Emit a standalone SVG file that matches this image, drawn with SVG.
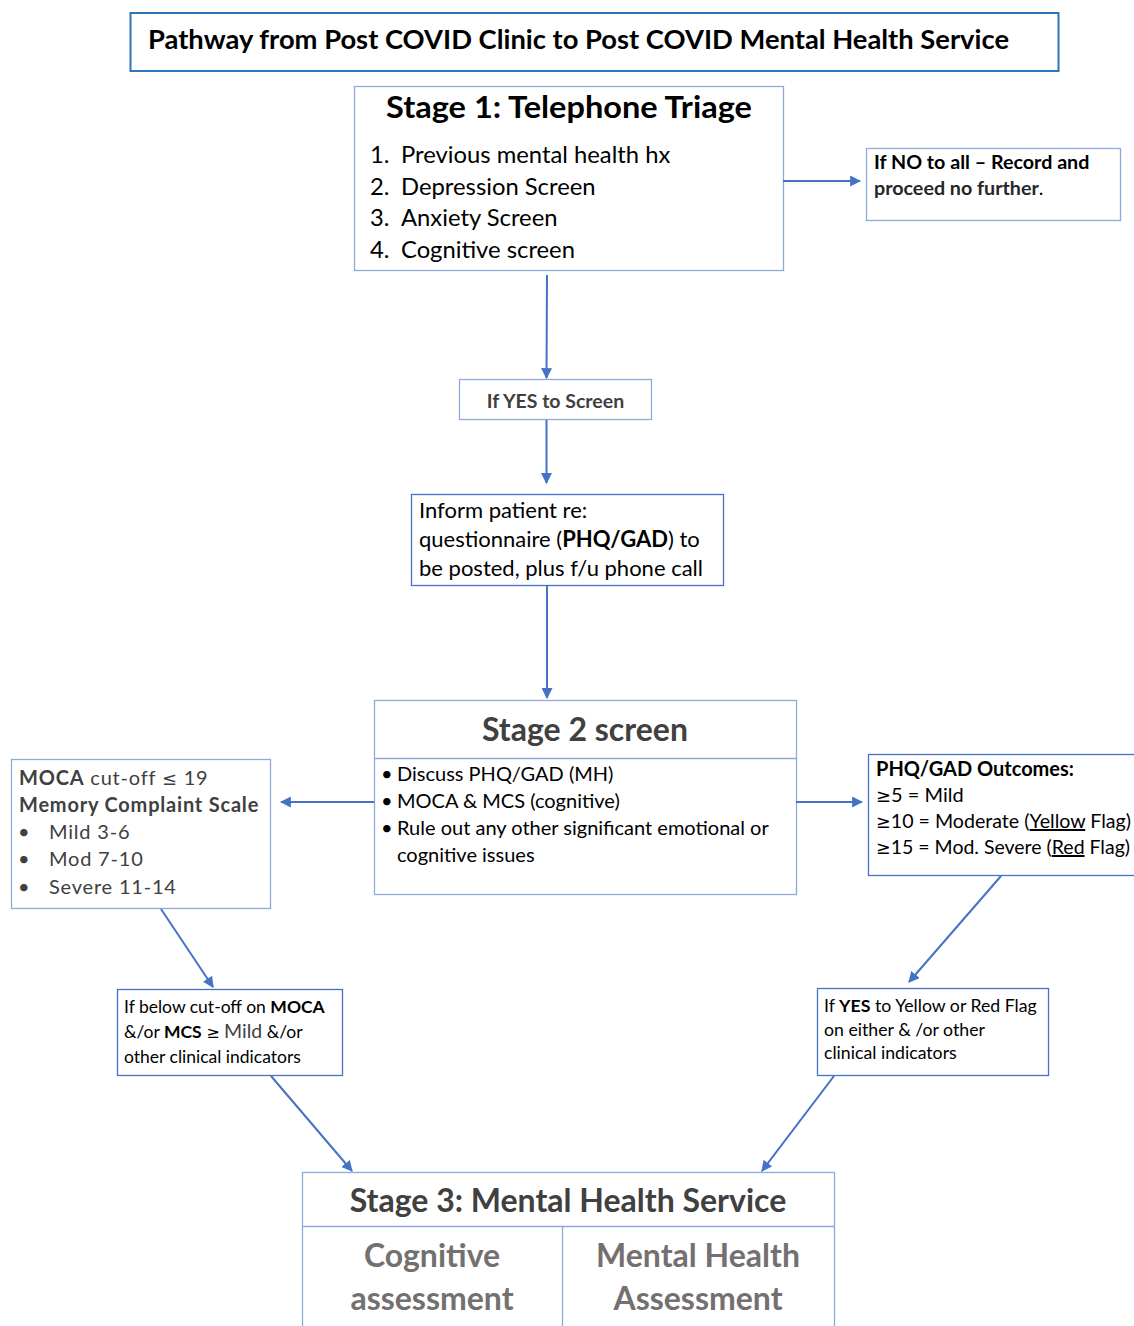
<svg xmlns="http://www.w3.org/2000/svg" width="1134" height="1326" viewBox="0 0 1134 1326">
<defs>
<marker id="ah" viewBox="0 0 10 10" refX="9" refY="5" markerWidth="5.5" markerHeight="5.5" orient="auto" markerUnits="strokeWidth">
<path d="M0,0 L10,5 L0,10 z" fill="#4472C4"/>
</marker>
<style>
text{font-family:Lato,"Open Sans","Liberation Sans",sans-serif;fill:#000}
.b{font-weight:bold}
.lb{fill:#fff;stroke:#8EAADB;stroke-width:1.3}
.db{fill:#fff;stroke:#4472C4;stroke-width:1.3}
.c{stroke:#4472C4;stroke-width:2;fill:none;marker-end:url(#ah)}
.g{fill:#404040}
.gg{fill:#757070}
.s{font-family:"DejaVu Sans","Liberation Sans",sans-serif;font-weight:normal}
</style>
</defs>
<rect width="1134" height="1326" fill="#fff"/>

<g id="title">
<rect x="130.5" y="13" width="928" height="58" fill="#fff" stroke="#2E75B6" stroke-width="2"/>
<text x="148" y="49" class="b" font-size="26" textLength="861" lengthAdjust="spacingAndGlyphs">Pathway from Post COVID Clinic to Post COVID Mental Health Service</text>
</g>

<g id="stage1">
<rect x="354.5" y="86.5" width="429" height="184" class="lb"/>
<text x="569" y="118" class="b" font-size="31" text-anchor="middle" textLength="366" lengthAdjust="spacingAndGlyphs">Stage 1: Telephone Triage</text>
<g font-size="23.8">
<text x="370" y="163">1.</text><text x="401" y="163">Previous mental health hx</text>
<text x="370" y="195">2.</text><text x="401" y="195">Depression Screen</text>
<text x="370" y="226">3.</text><text x="401" y="226">Anxiety Screen</text>
<text x="370" y="258">4.</text><text x="401" y="258">Cognitive screen</text>
</g>
</g>

<g id="no">
<rect x="866.5" y="148.5" width="254" height="72" class="lb"/>
<text x="874" y="169" font-size="19.7" class="b" fill="#262626">If NO to all – Record and</text>
<text x="874" y="195" font-size="19.7" fill="#262626"><tspan class="b" fill="#262626">proceed no further</tspan>.</text>
</g>

<g id="yes-screen">
<rect x="459.5" y="379.5" width="192" height="40" class="lb"/>
<text x="555.5" y="408" font-size="19.5" class="b g" text-anchor="middle">If YES to Screen</text>
</g>

<g id="inform">
<rect x="411.5" y="494.5" width="312" height="91" class="db"/>
<g font-size="22">
<text x="419" y="518">Inform patient re:</text>
<text x="419" y="547">questionnaire (<tspan class="b">PHQ/GAD</tspan>) to</text>
<text x="419" y="576">be posted, plus f/u phone call</text>
</g>
</g>

<g id="stage2">
<rect x="374.5" y="700.5" width="422" height="194" class="lb"/>
<line x1="374.5" y1="758.5" x2="796.5" y2="758.5" stroke="#8EAADB" stroke-width="1.3"/>
<text x="585" y="741" font-size="32" class="b g" text-anchor="middle">Stage 2 screen</text>
<g font-size="20">
<text x="381" y="781">•</text><text x="397" y="781">Discuss PHQ/GAD (MH)</text>
<text x="381" y="808">•</text><text x="397" y="808">MOCA &amp; MCS (cognitive)</text>
<text x="381" y="835">•</text><text x="397" y="835">Rule out any other significant emotional or</text>
<text x="397" y="862">cognitive issues</text>
</g>
</g>

<g id="moca">
<rect x="11.5" y="759.5" width="259" height="149" class="lb"/>
<g font-size="20" letter-spacing="0.8">
<text x="19" y="785" class="g"><tspan class="b">MOCA</tspan> cut-off <tspan class="s" font-size="18">≤</tspan> 19</text>
<text x="19" y="812" class="b g">Memory Complaint Scale</text>
<text x="18" y="839" class="g">•</text><text x="49" y="839" class="g">Mild 3-6</text>
<text x="18" y="866" class="g">•</text><text x="49" y="866" class="g">Mod 7-10</text>
<text x="18" y="894" class="g">•</text><text x="49" y="894" class="g">Severe 11-14</text>
</g>
</g>

<g id="phq">
<rect x="868.5" y="754.5" width="270" height="121" class="db"/>
<g font-size="20">
<text x="876" y="776" class="b">PHQ/GAD Outcomes:</text>
<text x="876" y="802"><tspan class="s" font-size="18">≥</tspan>5 = Mild</text>
<text x="876" y="828" textLength="255" lengthAdjust="spacingAndGlyphs"><tspan class="s" font-size="18">≥</tspan>10 = Moderate (<tspan text-decoration="underline">Yellow</tspan> Flag)</text>
<text x="876" y="854" textLength="254" lengthAdjust="spacingAndGlyphs"><tspan class="s" font-size="18">≥</tspan>15 = Mod. Severe (<tspan text-decoration="underline">Red</tspan> Flag)</text>
</g>
</g>

<g id="below">
<rect x="117.5" y="989.5" width="225" height="86" class="db"/>
<g font-size="17.5">
<text x="124" y="1013">If below cut-off on <tspan class="b">MOCA</tspan></text>
<text x="124" y="1038">&amp;/or <tspan class="b">MCS</tspan> <tspan class="s" font-size="16">≥</tspan> <tspan class="g" font-size="19.5">Mild</tspan> &amp;/or</text>
<text x="124" y="1063">other clinical indicators</text>
</g>
</g>

<g id="yesflag">
<rect x="817.5" y="988.5" width="231" height="87" class="db"/>
<g font-size="17.7">
<text x="824" y="1012">If <tspan class="b">YES</tspan> to Yellow or Red Flag</text>
<text x="824" y="1036">on either &amp; /or other</text>
<text x="824" y="1059">clinical indicators</text>
</g>
</g>

<g id="stage3">
<rect x="302.5" y="1172.5" width="532" height="170" class="lb"/>
<line x1="302.5" y1="1226.5" x2="834.5" y2="1226.5" stroke="#8EAADB" stroke-width="1.3"/>
<line x1="562.5" y1="1226.5" x2="562.5" y2="1330" stroke="#8EAADB" stroke-width="1.3"/>
<text x="568" y="1212" font-size="32" class="b g" text-anchor="middle">Stage 3: Mental Health Service</text>
<g font-size="32" text-anchor="middle">
<text x="432" y="1267" class="b gg">Cognitive</text>
<text x="432" y="1310" class="b gg">assessment</text>
<text x="698" y="1267" class="b gg">Mental Health</text>
<text x="698" y="1310" class="b gg">Assessment</text>
</g>
</g>

<g id="connectors">
<line x1="783" y1="181" x2="860" y2="181" class="c"/>
<line x1="547" y1="275" x2="546.5" y2="378" class="c"/>
<line x1="546.5" y1="420" x2="546.5" y2="483" class="c"/>
<line x1="547" y1="586" x2="547" y2="698" class="c"/>
<line x1="374" y1="802" x2="281" y2="802" class="c"/>
<line x1="796" y1="802" x2="862" y2="802" class="c"/>
<line x1="161" y1="909" x2="213" y2="987" class="c"/>
<line x1="1001" y1="876" x2="909" y2="982" class="c"/>
<line x1="271" y1="1076" x2="352" y2="1171" class="c"/>
<line x1="834" y1="1076" x2="762" y2="1171" class="c"/>
</g>
</svg>
